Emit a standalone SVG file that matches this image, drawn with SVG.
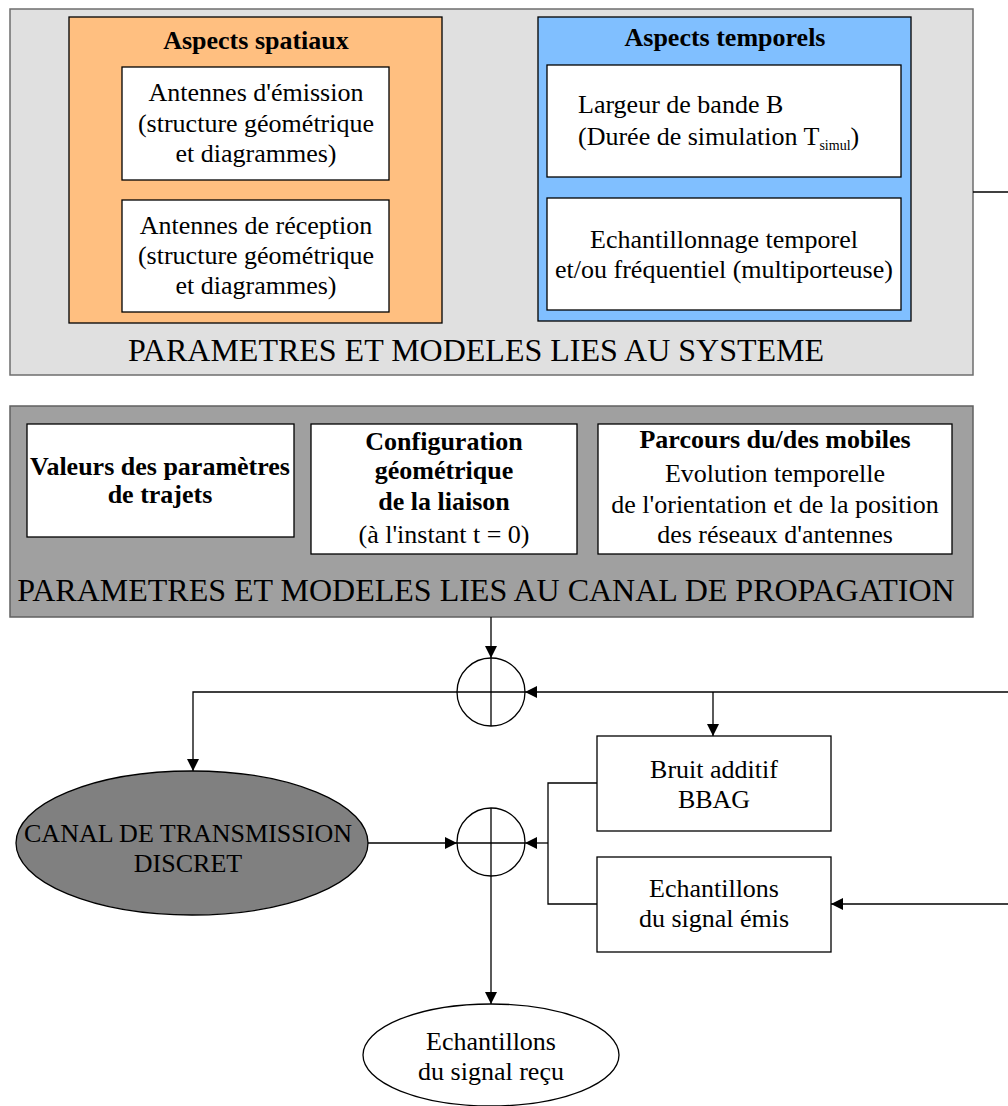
<svg xmlns="http://www.w3.org/2000/svg" width="1008" height="1106" viewBox="0 0 1008 1106">
<style>
text{font-family:"Liberation Serif","Times New Roman",serif;fill:#000;text-anchor:middle}
.t{font-size:26px}
.b{font-size:26px;font-weight:bold}
.h{font-size:32px}
.wb{fill:#fff;stroke:#000;stroke-width:1.3}
.ln{fill:none;stroke:#000;stroke-width:1.3}
</style>
<defs>
<marker id="ah" viewBox="0 0 12 12" refX="12" refY="6" markerWidth="12" markerHeight="12" markerUnits="userSpaceOnUse" orient="auto">
<path d="M0,0 L12,6 L0,12 Z" fill="#000"/>
</marker>
</defs>
<g id="systeme">
<rect x="10" y="9" width="963" height="366" fill="#e0e0e0" stroke="#6e6e6e" stroke-width="1.5"/>
<text class="h" x="476" y="361">PARAMETRES ET MODELES LIES AU SYSTEME</text>
</g>
<g id="spatiaux">
<rect x="69" y="17" width="373" height="306" fill="#ffbf80" stroke="#000" stroke-width="1.3"/>
<text class="b" x="256" y="49">Aspects spatiaux</text>
</g>
<g id="ant-emission">
<rect class="wb" x="122" y="67" width="267" height="113"/>
<text class="t" x="256" y="101">Antennes d'émission</text>
<text class="t" x="256" y="132">(structure géométrique</text>
<text class="t" x="256" y="162">et diagrammes)</text>
</g>
<g id="ant-reception">
<rect class="wb" x="122" y="200" width="267" height="112"/>
<text class="t" x="256" y="234">Antennes de réception</text>
<text class="t" x="256" y="264">(structure géométrique</text>
<text class="t" x="256" y="294">et diagrammes)</text>
</g>
<g id="temporels">
<rect x="538" y="17" width="373" height="304" fill="#80bfff" stroke="#000" stroke-width="1.3"/>
<text class="b" x="725" y="46">Aspects temporels</text>
</g>
<g id="bande">
<rect class="wb" x="547" y="65" width="354" height="112"/>
<text class="t" x="578" y="113" style="text-anchor:start">Largeur de bande B</text>
<text class="t" x="578" y="145" style="text-anchor:start">(Durée de simulation T<tspan font-size="14" dy="5">simul</tspan><tspan dy="-5">)</tspan></text>
</g>
<g id="echantillonnage">
<rect class="wb" x="547" y="198" width="354" height="112"/>
<text class="t" x="724" y="248">Echantillonnage temporel</text>
<text class="t" x="724" y="278">et/ou fréquentiel (multiporteuse)</text>
</g>
<g id="canal-prop">
<rect x="10" y="406" width="963" height="211" fill="#a0a0a0" stroke="#606060" stroke-width="1.5"/>
<text class="h" x="486" y="601">PARAMETRES ET MODELES LIES AU CANAL DE PROPAGATION</text>
</g>
<g id="valeurs">
<rect class="wb" x="27" y="424" width="267" height="113"/>
<text class="b" x="160" y="475">Valeurs des paramètres</text>
<text class="b" x="160" y="503">de trajets</text>
</g>
<g id="configuration">
<rect class="wb" x="311" y="424" width="266" height="130"/>
<text class="b" x="444" y="450">Configuration</text>
<text class="b" x="444" y="479">géométrique</text>
<text class="b" x="444" y="510">de la liaison</text>
<text class="t" x="444" y="543">(à l'instant t = 0)</text>
</g>
<g id="parcours">
<rect class="wb" x="598" y="424" width="354" height="130"/>
<text class="b" x="775" y="448">Parcours du/des mobiles</text>
<text class="t" x="775" y="482">Evolution temporelle</text>
<text class="t" x="775" y="513">de l'orientation et de la position</text>
<text class="t" x="775" y="543">des réseaux d'antennes</text>
</g>
<g id="sum1">
<circle class="ln" cx="491" cy="692" r="34"/>
</g>
<g id="sum2">
<circle class="ln" cx="491" cy="842" r="34"/>
</g>
<g id="canal-discret">
<ellipse cx="192" cy="843" rx="176" ry="72" fill="#808080" stroke="#000" stroke-width="1.3"/>
<text class="t" x="188" y="842">CANAL DE TRANSMISSION</text>
<text class="t" x="188" y="872">DISCRET</text>
</g>
<g id="bruit">
<rect class="wb" x="597" y="736" width="234" height="95"/>
<text class="t" x="714" y="778">Bruit additif</text>
<text class="t" x="714" y="808">BBAG</text>
</g>
<g id="ech-emis">
<rect class="wb" x="597" y="857" width="234" height="95"/>
<text class="t" x="714" y="897">Echantillons</text>
<text class="t" x="714" y="927">du signal émis</text>
</g>
<g id="ech-recu">
<ellipse class="wb" cx="491" cy="1055" rx="128" ry="51"/>
<text class="t" x="491" y="1050">Echantillons</text>
<text class="t" x="491" y="1080">du signal reçu</text>
</g>
<g id="connectors">
<line class="ln" x1="973" y1="192" x2="1008" y2="192"/>
<line class="ln" x1="491" y1="617" x2="491" y2="658" marker-end="url(#ah)"/>
<line class="ln" x1="491" y1="658" x2="491" y2="726"/>
<line class="ln" x1="1008" y1="692" x2="525" y2="692" marker-end="url(#ah)"/>
<polyline class="ln" points="525,692 193,692 193,771" marker-end="url(#ah)"/>
<line class="ln" x1="713" y1="692" x2="713" y2="736" marker-end="url(#ah)"/>
<line class="ln" x1="368" y1="843" x2="457" y2="843" marker-end="url(#ah)"/>
<line class="ln" x1="457" y1="843" x2="525" y2="843"/>
<line class="ln" x1="548" y1="843" x2="525" y2="843" marker-end="url(#ah)"/>
<polyline class="ln" points="597,783 548,783 548,904 597,904"/>
<line class="ln" x1="1008" y1="904" x2="831" y2="904" marker-end="url(#ah)"/>
<line class="ln" x1="491" y1="808" x2="491" y2="1004" marker-end="url(#ah)"/>
</g>
</svg>
